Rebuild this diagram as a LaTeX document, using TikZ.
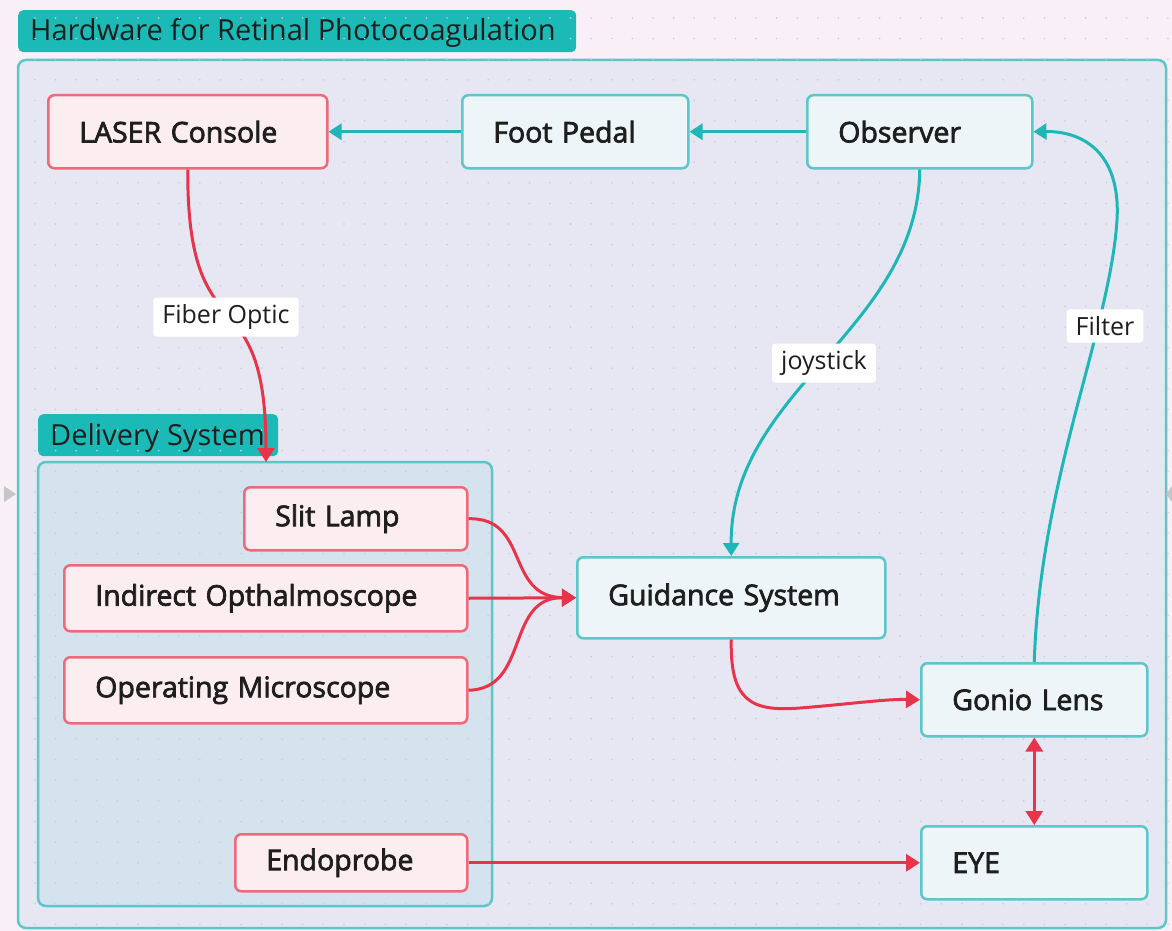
\documentclass[tikz,border=0pt]{standalone}
\usepackage{fontspec}
\setmainfont{Open Sans}
\newfontfamily\nodefont[FakeBold=2.5]{Open Sans}
\usetikzlibrary{arrows.meta}
\definecolor{bgc}{HTML}{F8F0F6}
\definecolor{outerfill}{HTML}{E6E7F2}
\definecolor{delivfill}{HTML}{D5E3EE}
\definecolor{tagfill}{HTML}{1CBAB6}
\definecolor{tealborder}{HTML}{5CC6C8}
\definecolor{tealnode}{HTML}{EDF5F8}
\definecolor{pinkborder}{HTML}{EE6A7A}
\definecolor{pinknode}{HTML}{FCEEF0}
\definecolor{tealline}{HTML}{1DB7B7}
\definecolor{redline}{HTML}{E8334A}
\definecolor{dotc}{HTML}{CACCDA}
\definecolor{txt}{HTML}{1E1E1E}
\begin{document}
\begin{tikzpicture}[x=1pt,y=-1pt,
  container/.style={draw=tealborder,line width=2.5pt,rounded corners=8pt},
  tagbox/.style={fill=tagfill,rounded corners=5pt,inner sep=0pt},
  tagtext/.style={anchor=west,text=txt,font=\fontsize{29}{34}\selectfont,inner sep=0pt},
  basebox/.style={line width=2.5pt,rounded corners=6pt,anchor=north west,inner xsep=31pt,inner ysep=0pt,align=left,text=txt,font=\nodefont\fontsize{28.5}{33}\selectfont},
  redbox/.style={basebox,draw=pinkborder,fill=pinknode},
  tealbox/.style={basebox,draw=tealborder,fill=tealnode},
  tline/.style={draw=tealline,line width=3pt,-{Triangle[length=13pt,width=16pt]}},
  rline/.style={draw=redline,line width=3pt,-{Triangle[length=14pt,width=17pt]}},
  elabel/.style={fill=white,rounded corners=3pt,inner xsep=9pt,inner ysep=7pt,text=txt,font=\fontsize{25}{30}\selectfont}
]
\useasboundingbox (0,0) rectangle (1172,931);
\fill[bgc] (0,0) rectangle (1172,931);
% outer container
\filldraw[container,fill=outerfill] (18,60) rectangle (1166,928);
\node[tagbox,anchor=north west,minimum width=558pt,minimum height=42pt] (title) at (18,10) {};
\node[tagtext] (titletext) at (30,33) {Hardware for Retinal Photocoagulation};
% delivery container
\filldraw[container,fill=delivfill] (38,462) rectangle (492,906);
\coordinate (delivtop) at (266,462);
\node[tagbox,anchor=north west,minimum width=240pt,minimum height=42pt] (dtag) at (38,414) {};
\node[tagtext] (dtagtext) at (50,438) {Delivery System};
% dot grid
\foreach \i in {0,...,56}{
  \foreach \j in {0,...,45}{
    \fill[dotc] ({35+\i*20.6},{18+\j*20.6}) circle (0.9);
  }
}
% side markers
\fill[gray!45] (4,486) -- (16,494) -- (4,502) -- cycle;
\fill[gray!45] (1172,486) -- (1166,494) -- (1172,502) -- cycle;
% nodes
\node[redbox,text width=217pt,minimum height=73pt] (laser) at (47,94) {LASER Console};
\node[tealbox,text width=164pt,minimum height=73pt] (foot) at (461,94) {Foot Pedal};
\node[tealbox,text width=163pt,minimum height=73pt] (obs) at (806,94) {Observer};
\node[redbox,text width=161pt,minimum height=63pt] (slit) at (243,486) {Slit Lamp};
\node[redbox,text width=341pt,minimum height=66pt] (indirect) at (63,564) {Indirect Opthalmoscope};
\node[redbox,text width=341pt,minimum height=66pt] (opmic) at (63,656) {Operating Microscope};
\node[redbox,text width=170pt,minimum height=57pt] (endo) at (234,833) {Endoprobe};
\node[tealbox,text width=246pt,minimum height=81pt] (guid) at (576,556) {Guidance System};
\node[tealbox,text width=164pt,minimum height=73pt] (gonio) at (920,662) {Gonio Lens};
\node[tealbox,text width=164pt,minimum height=73pt] (eye) at (920,825) {EYE};
% connectors
\draw[tline] (foot.west) -- (laser.east);
\draw[tline] (obs.west) -- (foot.east);
\draw[rline] (laser.south) .. controls (187,360) and (266,270) .. (delivtop);
\node[elabel] (fo) at (226,317) {Fiber Optic};
\draw[tline] (obs.south) .. controls (918,330) and (730,390) .. (guid.north);
\node[elabel] (joy) at (824,363) {joystick};
\draw[tline] (gonio.north) .. controls (1040,480) and (1110,330) .. (1117,220) .. controls (1121,150) and (1080,131) .. (obs.east);
\node[elabel] (filt) at (1105,326) {Filter};
\draw[rline] (slit.east) .. controls (530,517) and (505,597) .. (guid.west);
\draw[rline] (indirect.east) -- (guid.west);
\draw[rline] (opmic.east) .. controls (530,689) and (505,597) .. (guid.west);
\draw[rline] (guid.south) .. controls (730,700) and (750,712) .. (800,708) .. controls (850,704) and (885,699) .. (gonio.west);
\draw[rline,{Triangle[length=14pt,width=17pt]}-{Triangle[length=14pt,width=17pt]}] (gonio.south) -- (eye.north);
\draw[rline] (endo.east) -- (eye.west);
\end{tikzpicture}
\end{document}
